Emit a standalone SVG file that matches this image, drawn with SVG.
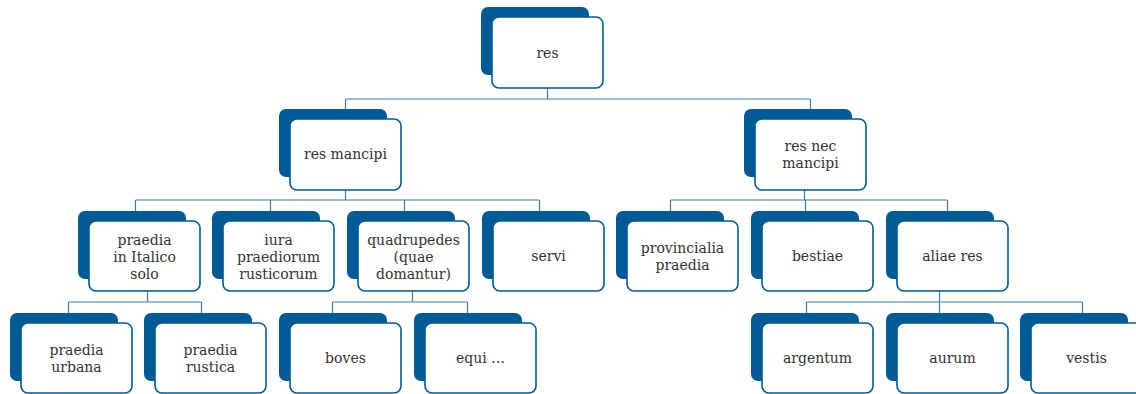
<svg xmlns="http://www.w3.org/2000/svg" width="1136" height="394" viewBox="0 0 1136 394">
  <style>
    .back { fill: #005a96; }
    .front { fill: #ffffff; stroke: #005a96; stroke-width: 1.6; }
    .lbl { font-family: "DejaVu Serif", "Liberation Serif", serif; font-size: 14px; fill: #333333; text-anchor: middle; }
    .link { fill: none; stroke: #3d7bb0; stroke-width: 1.2; }
  </style>

  <!-- connectors -->
  <g id="connectors" class="link">
    <path d="M547.5 88 V99 M345.5 99 H810.5 M345.5 99 V109 M810.5 99 V109"/>
    <path d="M345.5 190 V200 M135.5 200 H539.5 M135.5 200 V211 M270.5 200 V211 M404.5 200 V211 M539.5 200 V211"/>
    <path d="M804.5 190 V200 M670.5 200 H947.5 M670.5 200 V211 M805.5 200 V211 M947.5 200 V211"/>
    <path d="M147.5 291 V302 M68.5 302 H201.5 M68.5 302 V313 M201.5 302 V313"/>
    <path d="M412.5 291 V302 M332.5 302 H467.5 M332.5 302 V313 M467.5 302 V313"/>
    <path d="M939.5 291 V302 M806.5 302 H1082.5 M806.5 302 V313 M939.5 302 V313 M1082.5 302 V313"/>
  </g>

  <!-- level 1 -->
  <g id="n-res">
    <rect class="back" x="481" y="7" width="108" height="68" rx="7"/>
    <rect class="front" x="492" y="17" width="111" height="71" rx="7"/>
    <text class="lbl" x="547.5" y="57.5">res</text>
  </g>

  <!-- level 2 -->
  <g id="n-res-mancipi">
    <rect class="back" x="279" y="109" width="108" height="68" rx="7"/>
    <rect class="front" x="290" y="119" width="111" height="71" rx="7"/>
    <text class="lbl" x="345.5" y="159">res mancipi</text>
  </g>
  <g id="n-res-nec-mancipi">
    <rect class="back" x="744" y="109" width="108" height="68" rx="7"/>
    <rect class="front" x="755" y="119" width="111" height="71" rx="7"/>
    <text class="lbl" x="810.5" y="150.5">res nec</text>
    <text class="lbl" x="810.5" y="167.5">mancipi</text>
  </g>

  <!-- level 3 -->
  <g id="n-praedia-italico">
    <rect class="back" x="78" y="211" width="108" height="68" rx="7"/>
    <rect class="front" x="89" y="221" width="111" height="70" rx="7"/>
    <text class="lbl" x="144.5" y="244.5">praedia</text>
    <text class="lbl" x="144.5" y="261.5">in Italico</text>
    <text class="lbl" x="144.5" y="278.5">solo</text>
  </g>
  <g id="n-iura">
    <rect class="back" x="212" y="211" width="108" height="68" rx="7"/>
    <rect class="front" x="223" y="221" width="111" height="70" rx="7"/>
    <text class="lbl" x="278.5" y="245">iura</text>
    <text class="lbl" x="278.5" y="262">praediorum</text>
    <text class="lbl" x="278.5" y="279">rusticorum</text>
  </g>
  <g id="n-quadrupedes">
    <rect class="back" x="347" y="211" width="108" height="68" rx="7"/>
    <rect class="front" x="358" y="221" width="111" height="70" rx="7"/>
    <text class="lbl" x="413.5" y="244.5">quadrupedes</text>
    <text class="lbl" x="413.5" y="261.5">(quae</text>
    <text class="lbl" x="413.5" y="278.5">domantur)</text>
  </g>
  <g id="n-servi">
    <rect class="back" x="482" y="211" width="108" height="68" rx="7"/>
    <rect class="front" x="493" y="221" width="111" height="70" rx="7"/>
    <text class="lbl" x="548.5" y="261">servi</text>
  </g>
  <g id="n-provincialia">
    <rect class="back" x="616" y="211" width="108" height="68" rx="7"/>
    <rect class="front" x="627" y="221" width="111" height="70" rx="7"/>
    <text class="lbl" x="682.5" y="252.5">provincialia</text>
    <text class="lbl" x="682.5" y="269.5">praedia</text>
  </g>
  <g id="n-bestiae">
    <rect class="back" x="751" y="211" width="108" height="68" rx="7"/>
    <rect class="front" x="762" y="221" width="111" height="70" rx="7"/>
    <text class="lbl" x="817.5" y="261">bestiae</text>
  </g>
  <g id="n-aliae-res">
    <rect class="back" x="886" y="211" width="108" height="68" rx="7"/>
    <rect class="front" x="897" y="221" width="111" height="70" rx="7"/>
    <text class="lbl" x="952.5" y="261">aliae res</text>
  </g>

  <!-- level 4 -->
  <g id="n-urbana">
    <rect class="back" x="10" y="313" width="108" height="68" rx="7"/>
    <rect class="front" x="21" y="323" width="111" height="70" rx="7"/>
    <text class="lbl" x="76.5" y="355">praedia</text>
    <text class="lbl" x="76.5" y="372">urbana</text>
  </g>
  <g id="n-rustica">
    <rect class="back" x="144" y="313" width="108" height="68" rx="7"/>
    <rect class="front" x="155" y="323" width="111" height="70" rx="7"/>
    <text class="lbl" x="210.5" y="355">praedia</text>
    <text class="lbl" x="210.5" y="372">rustica</text>
  </g>
  <g id="n-boves">
    <rect class="back" x="279" y="313" width="108" height="68" rx="7"/>
    <rect class="front" x="290" y="323" width="111" height="70" rx="7"/>
    <text class="lbl" x="345.5" y="363">boves</text>
  </g>
  <g id="n-equi">
    <rect class="back" x="414" y="313" width="108" height="68" rx="7"/>
    <rect class="front" x="425" y="323" width="111" height="70" rx="7"/>
    <text class="lbl" x="480.5" y="363">equi …</text>
  </g>
  <g id="n-argentum">
    <rect class="back" x="751" y="313" width="108" height="68" rx="7"/>
    <rect class="front" x="762" y="323" width="111" height="70" rx="7"/>
    <text class="lbl" x="817.5" y="363">argentum</text>
  </g>
  <g id="n-aurum">
    <rect class="back" x="886" y="313" width="108" height="68" rx="7"/>
    <rect class="front" x="897" y="323" width="111" height="70" rx="7"/>
    <text class="lbl" x="952.5" y="363">aurum</text>
  </g>
  <g id="n-vestis">
    <rect class="back" x="1020" y="313" width="108" height="68" rx="7"/>
    <rect class="front" x="1031" y="323" width="111" height="70" rx="7"/>
    <text class="lbl" x="1086.5" y="363">vestis</text>
  </g>
</svg>
